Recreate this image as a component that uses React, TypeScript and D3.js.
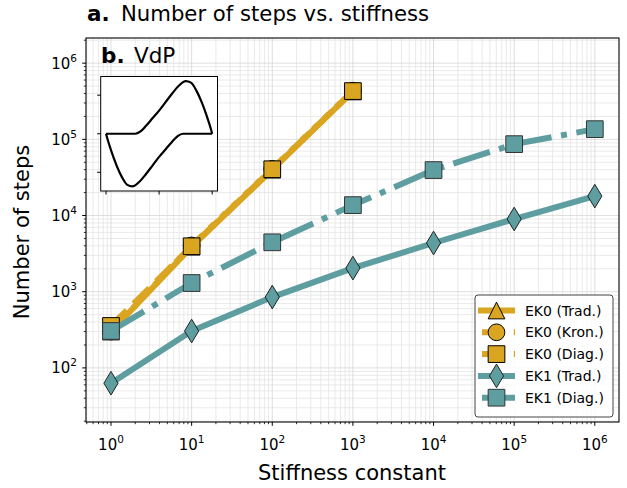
import * as d3 from "d3";

// stiffness values (x) and number of steps per method
const stiffness = [1, 10, 100, 1000, 1e4, 1e5, 1e6];
const ek0Trad = [300, 3900, 40000, 425000];
const ek0Kron = [300, 4050, 41000, 435000];
const ek0Diag = [355, 3950, 40500, 430000];
const ek1Trad = [63, 305, 850, 2040, 4360, 9000, 18000];
const ek1Diag = [305, 1300, 4450, 13700, 39500, 86500, 136000];

const xMajor = [0, 1, 2, 3, 4, 5, 6];
const yMajor = [2, 3, 4, 5, 6];

// inset: VdP limit cycle (two branches, x increasing)
const vdpUpperX = [-2, -0.9, -0.7, -0.5, -0.25, 0, 0.25, 0.5, 0.75, 1.0, 1.2, 1.4, 1.6, 1.8, 1.95, 2.0];
const vdpUpperY = [0, 0, 0.12, 0.4, 0.8, 1.2, 1.65, 2.1, 2.5, 2.73, 2.65, 2.25, 1.65, 0.9, 0.25, 0];
const vdpLowerX = [-2, -1.95, -1.8, -1.6, -1.4, -1.2, -1.0, -0.75, -0.5, -0.25, 0, 0.25, 0.5, 0.7, 0.9, 2];
const vdpLowerY = [0, -0.25, -0.9, -1.65, -2.25, -2.65, -2.73, -2.5, -2.1, -1.65, -1.2, -0.8, -0.4, -0.12, 0, 0];
const insetTicks = [-2, 0, 2];

const GOLD = "#daa520";
const TEAL = "#5f9ea0";
const FONT = "DejaVu Sans";

const series = [
    { label: "EK0 (Trad.)", values: ek0Trad, color: GOLD, dash: "", marker: "tri", edge: "#000" },
    { label: "EK0 (Kron.)", values: ek0Kron, color: GOLD, dash: "6,9.9", marker: "circle", edge: "#000" },
    { label: "EK0 (Diag.)", values: ek0Diag, color: GOLD, dash: "22.2,9.6", marker: "square", edge: "#000" },
    { label: "EK1 (Trad.)", values: ek1Trad, color: TEAL, dash: "", marker: "diamond", edge: "#222" },
    { label: "EK1 (Diag.)", values: ek1Diag, color: TEAL, dash: "38.4,9.6,6,9.6", marker: "square", edge: "#333" },
];

const MS = 16.7;

function markerPath(kind: string) {
    const h = MS / 2;
    if (kind === "tri") return `M0,${-h}L${h},${h}L${-h},${h}Z`;
    if (kind === "square") return `M${-h},${-h}H${h}V${h}H${-h}Z`;
    if (kind === "diamond") {
        const dy = MS * Math.SQRT2 / 2;
        const dx = dy * 0.6;
        return `M0,${-dy}L${dx},0L0,${dy}L${-dx},0Z`;
    }
    return d3.symbol().type(d3.symbolCircle).size(Math.PI * h * h)()!;
}

function Marker({ kind, x, y, color, edge }: { kind: string; x: number; y: number; color: string; edge: string }) {
    return <path d={markerPath(kind)} transform={`translate(${x},${y})`} fill={color} stroke={edge} strokeWidth={1} />;
}

export default function App() {
    const W = 627, H = 488;
    const left = 86, right = 619, top = 38, bottom = 422;

    const x = d3.scaleLog().domain([10 ** -0.31, 10 ** 6.3]).range([left, right]);
    const y = d3.scaleLog().domain([10 ** 1.29, 10 ** 6.33]).range([bottom, top]);

    const minorOf = (scale: d3.ScaleLogarithmic<number, number>, lo: number, hi: number) => {
        const out: number[] = [];
        for (let e = lo; e <= hi; e++) for (let m = 2; m <= 9; m++) {
            const v = m * 10 ** e;
            const [a, b] = scale.domain();
            if (v >= a && v <= b) out.push(v);
        }
        return out;
    };
    const xMinor = minorOf(x, -1, 6);
    const yMinor = minorOf(y, 1, 6);

    const line = d3.line<number>().x((_, i) => x(stiffness[i])).y(d => y(d));

    const ix = d3.scaleLinear().domain([-2.2, 2.2]).range([100.7, 217.5]);
    const iy = d3.scaleLinear().domain([-2.97, 2.97]).range([191, 76.5]);
    const vdpLine = d3.line<number>().curve(d3.curveMonotoneX);
    const upper = vdpLine(vdpUpperX.map((v, i) => [ix(v), iy(vdpUpperY[i])]) as any);
    const lower = vdpLine(vdpLowerX.map((v, i) => [ix(v), iy(vdpLowerY[i])]) as any);

    const legendX = 475, legendY = 295;

    return (
        <svg width={W} height={H} style={{ position: "absolute", left: 0, top: 0 }} fontFamily={FONT}>
            <rect width={W} height={H} fill="#fff" />
            {/* grid */}
            <g>
                {xMinor.map(v => <line key={"gxm" + v} x1={x(v)} x2={x(v)} y1={top} y2={bottom} stroke="#e4e4e4" strokeWidth={0.8} />)}
                {yMinor.map(v => <line key={"gym" + v} y1={y(v)} y2={y(v)} x1={left} x2={right} stroke="#e4e4e4" strokeWidth={0.8} />)}
                {xMajor.map(e => <line key={"gx" + e} x1={x(10 ** e)} x2={x(10 ** e)} y1={top} y2={bottom} stroke="#d6d6d6" strokeWidth={0.8} />)}
                {yMajor.map(e => <line key={"gy" + e} y1={y(10 ** e)} y2={y(10 ** e)} x1={left} x2={right} stroke="#d6d6d6" strokeWidth={0.8} />)}
            </g>

            {/* data */}
            {series.map(s => (
                <g key={s.label}>
                    <path d={line(s.values)!} fill="none" stroke={s.color} strokeWidth={6} strokeDasharray={s.dash}
                        strokeLinejoin="round" />
                    {s.values.map((v, i) => (
                        <Marker key={i} kind={s.marker} x={x(stiffness[i])} y={y(v)} color={s.color} edge={s.edge} />
                    ))}
                </g>
            ))}

            {/* inset */}
            <rect x={100.7} y={76.5} width={116.8} height={114.5} fill="#fff" stroke="#000" strokeWidth={1} />
            {insetTicks.map(t => <line key={"itx" + t} x1={ix(t)} x2={ix(t)} y1={191} y2={194.5} stroke="#000" />)}
            {insetTicks.map(t => <line key={"ity" + t} y1={iy(t)} y2={iy(t)} x1={100.7} x2={97.2} stroke="#000" />)}
            <path d={upper!} fill="none" stroke="#000" strokeWidth={2.2} strokeLinejoin="round" />
            <path d={lower!} fill="none" stroke="#000" strokeWidth={2.2} strokeLinejoin="round" />

            {/* spines */}
            <rect x={left} y={top} width={right - left} height={bottom - top} fill="none" stroke="#000" strokeWidth={1.1} />

            {/* ticks */}
            {xMinor.map(v => <line key={"txm" + v} x1={x(v)} x2={x(v)} y1={bottom} y2={bottom + 2.2} stroke="#000" strokeWidth={0.8} />)}
            {yMinor.map(v => <line key={"tym" + v} y1={y(v)} y2={y(v)} x1={left} x2={left - 2.2} stroke="#000" strokeWidth={0.8} />)}
            {xMajor.map(e => (
                <g key={"tx" + e}>
                    <line x1={x(10 ** e)} x2={x(10 ** e)} y1={bottom} y2={bottom + 3.8} stroke="#000" strokeWidth={1} />
                    <text x={x(10 ** e)} y={450} textAnchor="middle" fontSize={15}>10<tspan dy={-7} fontSize={10.5}>{e}</tspan></text>
                </g>
            ))}
            {yMajor.map(e => (
                <g key={"ty" + e}>
                    <line y1={y(10 ** e)} y2={y(10 ** e)} x1={left} x2={left - 3.8} stroke="#000" strokeWidth={1} />
                    <text x={77} y={y(10 ** e) + 5.5} textAnchor="end" fontSize={15}>10<tspan dy={-7} fontSize={10.5}>{e}</tspan></text>
                </g>
            ))}

            {/* labels */}
            <text x={87} y={21} fontSize={21.5} fontWeight="bold">a.</text>
            <text x={121} y={21} fontSize={21.2}>Number of steps vs. stiffness</text>
            <text x={101} y={63} fontSize={21.5} fontWeight="bold">b.</text>
            <text x={134} y={63} fontSize={21.5}>VdP</text>
            <text x={352} y={480} textAnchor="middle" fontSize={21}>Stiffness constant</text>
            <text transform={`translate(29,${(top + bottom) / 2 + 2}) rotate(-90)`} textAnchor="middle" fontSize={21}>Number of steps</text>

            {/* legend */}
            <rect x={legendX} y={legendY} width={138} height={122} rx={3} fill="#fff" fillOpacity={0.85} stroke="#444" strokeWidth={1} />
            {series.map((s, i) => {
                const cy = legendY + 15.5 + i * 21.8;
                return (
                    <g key={"lg" + s.label}>
                        <line x1={478} x2={515} y1={cy} y2={cy} stroke={s.color} strokeWidth={6} strokeDasharray={s.dash} strokeDashoffset={-4} />
                        <Marker kind={s.marker} x={496.5} y={cy} color={s.color} edge={s.edge} />
                        <text x={525} y={cy + 5} fontSize={14}>{s.label}</text>
                    </g>
                );
            })}
        </svg>
    );
}
